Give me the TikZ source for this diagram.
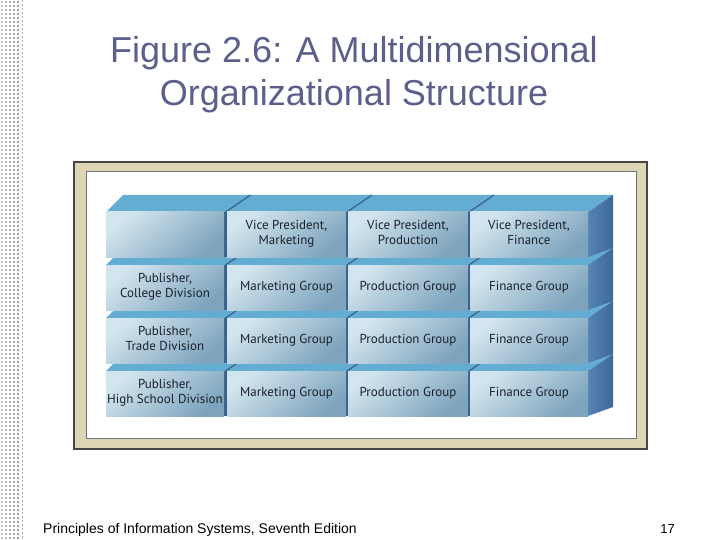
\documentclass[tikz,border=0pt]{standalone}
\usepackage{fontspec}
\setmainfont{Liberation Sans}
\newfontfamily\cellfont{PT Sans}
\definecolor{titlecol}{HTML}{5C5F8B}
\definecolor{framebeige}{HTML}{DCD5B6}
\definecolor{topcol}{HTML}{63ADD2}
\definecolor{sidelight}{HTML}{5584B5}
\definecolor{sidedark}{HTML}{3F6797}
\definecolor{sepcol}{HTML}{38608A}
\definecolor{frontlight}{HTML}{D3E5EE}
\definecolor{frontdark}{HTML}{7EA4BD}
\definecolor{celltext}{HTML}{18222C}
\definecolor{dashcol}{HTML}{C9A277}
\tikzset{
  cellbox/.style={shape=rectangle, inner sep=0pt, minimum height=45pt,
    top color=frontlight, bottom color=frontdark, shading angle=40,
    text=celltext, align=center, font=\cellfont\fontsize{13}{15.5}\selectfont,
    execute at begin node=\strut, execute at end node=\strut},
  titletext/.style={anchor=base, text=titlecol, font=\fontsize{36}{40}\selectfont, inner sep=0pt},
  foottext/.style={inner sep=0pt, font=\fontsize{14}{16}\selectfont}
}
\newcommand\slabrow[1]{%
  \fill[topcol] (106,#1) -- (123,#1-17) -- (613,#1-17) -- (588,#1) -- cycle;
  \foreach \xb in {225.5,347,469} \draw[sepcol, line width=1.2pt] (\xb,#1) -- ++(25,-17);
  \shade[left color=sidelight, right color=sidedark] (588,#1) -- (613,#1-17) -- (613,#1+36) -- (588,#1+45) -- cycle;
  \fill[sepcol] (224,#1) rectangle (227,#1+45);
  \fill[sepcol] (346,#1) rectangle (348,#1+45);
  \fill[sepcol] (468,#1) rectangle (470,#1+45);
}
\begin{document}
\begin{tikzpicture}[x=1pt,y=-1pt]
\useasboundingbox (0,0) rectangle (720,540);
\fill[white] (0,0) rectangle (720,540);
% left decorative strip
\foreach \xx/\cc in {1/gray!45,5/gray!55,9/gray!62,13/gray!68,17/gray!75}
  \foreach \yy in {1,5,...,537} \fill[\cc] (\xx,\yy) rectangle +(2.4,2.4);
\draw[dashcol, line width=1pt, dash pattern=on 2pt off 2pt] (22,0) -- (22,540);
% title
\node[titletext] (title1) at (354,63) {Figure 2.6: A Multidimensional};
\node[titletext] (title2) at (354,106) {Organizational Structure};
% frame
\draw[fill=framebeige, draw=black!72, line width=1.2pt] (74,162) rectangle (647,449);
\draw[fill=white, draw=black!55, line width=1pt] (86,172) rectangle (636,438);
% row 4
\slabrow{371}
\node[cellbox, minimum width=118pt] (r4c1) at (165,393.5) {Publisher,\\High School Division};
\node[cellbox, minimum width=119pt] (r4c2) at (286.5,393.5) {Marketing Group};
\node[cellbox, minimum width=120pt] (r4c3) at (408,393.5) {Production Group};
\node[cellbox, minimum width=118pt] (r4c4) at (529,393.5) {Finance Group};
% row 3
\slabrow{318}
\node[cellbox, minimum width=118pt] (r3c1) at (165,340.5) {Publisher,\\Trade Division};
\node[cellbox, minimum width=119pt] (r3c2) at (286.5,340.5) {Marketing Group};
\node[cellbox, minimum width=120pt] (r3c3) at (408,340.5) {Production Group};
\node[cellbox, minimum width=118pt] (r3c4) at (529,340.5) {Finance Group};
% row 2
\slabrow{265}
\node[cellbox, minimum width=118pt] (r2c1) at (165,287.5) {Publisher,\\College Division};
\node[cellbox, minimum width=119pt] (r2c2) at (286.5,287.5) {Marketing Group};
\node[cellbox, minimum width=120pt] (r2c3) at (408,287.5) {Production Group};
\node[cellbox, minimum width=118pt] (r2c4) at (529,287.5) {Finance Group};
% row 1
\slabrow{212}
\node[cellbox, minimum width=118pt] (r1c1) at (165,234.5) {};
\node[cellbox, minimum width=119pt] (r1c2) at (286.5,234.5) {Vice President,\\Marketing};
\node[cellbox, minimum width=120pt] (r1c3) at (408,234.5) {Vice President,\\Production};
\node[cellbox, minimum width=118pt] (r1c4) at (529,234.5) {Vice President,\\Finance};
% footer
\node[foottext, anchor=base west] (foot) at (43,533) {Principles of Information Systems, Seventh Edition};
\node[foottext, anchor=base east, font=\fontsize{13}{15}\selectfont] (page) at (675,533) {17};
\end{tikzpicture}
\end{document}
